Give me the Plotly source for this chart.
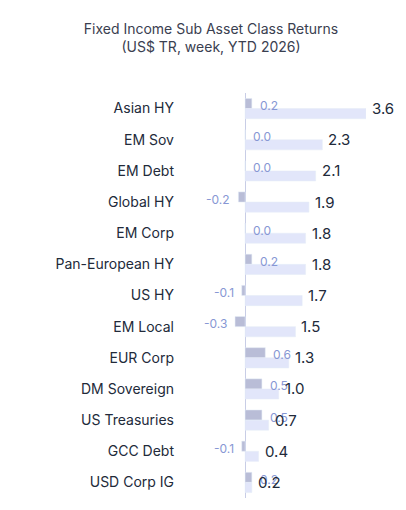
import plotly.graph_objects as go

categories = ["Asian HY","EM Sov","EM Debt","Global HY","EM Corp","Pan-European HY","US HY",
              "EM Local","EUR Corp","DM Sovereign","US Treasuries","GCC Debt","USD Corp IG"]
week = [0.2,0.0,0.0,-0.2,0.0,0.2,-0.1,-0.3,0.6,0.5,0.5,-0.1,0.2]
ytd = [3.6,2.3,2.1,1.9,1.8,1.8,1.7,1.5,1.3,1.0,0.7,0.4,0.2]

fig = go.Figure()
fig.add_bar(y=categories, x=week, orientation="h", name="week", marker_color="#b9bdd7")
fig.add_bar(y=categories, x=ytd, orientation="h", name="YTD", marker_color="#e2e6fa")

for c, w, t in zip(categories, week, ytd):
    fig.add_annotation(x=w, y=c, text=f"{w:.1f}", showarrow=False,
                       xanchor="left" if w >= 0 else "right", xshift=6 if w >= 0 else -6,
                       yshift=3, font=dict(size=12, color="#8797d4"))
    fig.add_annotation(x=t, y=c, text=f"{t:.1f}", showarrow=False,
                       xanchor="left", xshift=4, yshift=0,
                       font=dict(size=15, color="#222a3a"))

fig.update_layout(
    width=406, height=510, barmode="group", bargap=0.35, bargroupgap=0,
    showlegend=False, plot_bgcolor="white", paper_bgcolor="white",
    margin=dict(l=175, r=48, t=85, b=20),
    font=dict(family="Inter, Noto Sans, sans-serif", color="#222a3a"),
    title=dict(text="Fixed Income Sub Asset Class Returns<br>(US$ TR, week, YTD 2026)",
               x=0.5, xanchor="center", y=0.95, yanchor="top",
               font=dict(size=14, color="#3a4050")),
)
fig.update_xaxes(range=[-1.85, 3.6], showgrid=False, showticklabels=False,
                 zeroline=True, zerolinecolor="#c8cde6", zerolinewidth=1)
fig.update_yaxes(autorange="reversed", showgrid=False, ticks="", ticklabelstandoff=8,
                 tickfont=dict(size=14, color="#222a3a"))
fig.write_html("out.html")
